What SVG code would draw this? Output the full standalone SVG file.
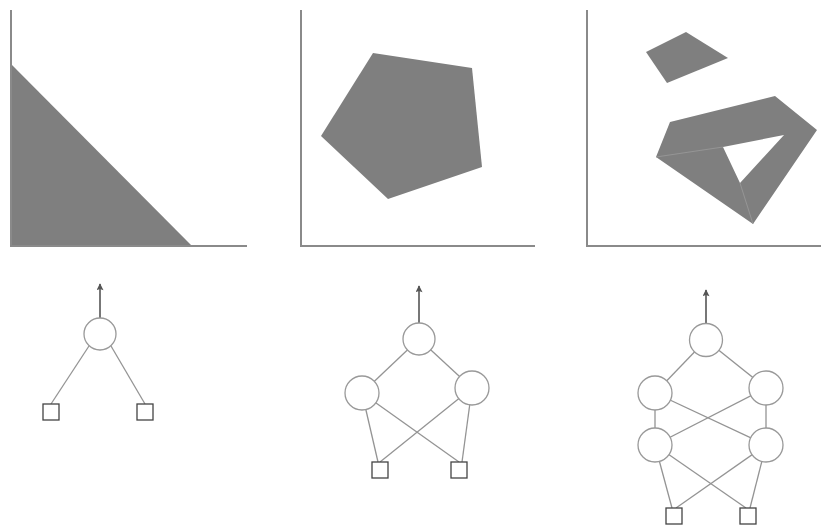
<svg xmlns="http://www.w3.org/2000/svg" width="821" height="529" viewBox="0 0 821 529">
<defs>
<style>
.axis{stroke:#8a8a8a;stroke-width:2;fill:none}
.shape{fill:#7f7f7f;stroke:none}
.edge{stroke:#949494;stroke-width:1.3;fill:none}
.neuron{fill:#fff;stroke:#999;stroke-width:1.3}
.input{fill:#fff;stroke:#444;stroke-width:1.3}
.out{stroke:#555;stroke-width:1.6;fill:none}
</style>
<marker id="ah" viewBox="0 0 10 10" refX="9" refY="5" markerWidth="10" markerHeight="7" markerUnits="userSpaceOnUse" orient="auto">
<path d="M0,0 L10,5 L0,10 L2,5 z" fill="#555"/>
</marker>
</defs>
<rect width="821" height="529" fill="#fff"/>
<g id="plot1">
<polygon class="shape" points="11,64 11,246 192,246"/>
<path class="axis" d="M11,10 V246 H247"/>
</g>
<g id="plot2">
<polygon class="shape" points="373,53 472,68 482,167 388,199 321,136"/>
<path class="axis" d="M301,10 V246 H535"/>
</g>
<g id="plot3">
<polygon class="shape" points="646,52 686,32 728,58 667,83"/>
<path class="shape" fill-rule="evenodd" d="M656,157 L670,122 L775,96 L817,130 L753,224 Z M723,147 L784,135 L740,183 Z"/>
<path d="M656,157 L723,147 M740,183 L753,224" stroke="#9a9a9a" stroke-width="0.8" fill="none"/>
<path class="axis" d="M587,10 V246 H821"/>
</g>
<g id="connectors">
<line class="out" x1="100" y1="318" x2="100" y2="284" marker-end="url(#ah)"/>
<line class="edge" x1="89" y1="346" x2="51" y2="404"/>
<line class="edge" x1="111" y1="346" x2="145" y2="404"/>
<line class="out" x1="419" y1="323" x2="419" y2="286" marker-end="url(#ah)"/>
<line class="edge" x1="419" y1="339" x2="362" y2="393"/>
<line class="edge" x1="419" y1="339" x2="472" y2="388"/>
<line class="edge" x1="362" y1="393" x2="378" y2="462"/>
<line class="edge" x1="362" y1="393" x2="459" y2="462"/>
<line class="edge" x1="472" y1="388" x2="380" y2="462"/>
<line class="edge" x1="472" y1="388" x2="462" y2="462"/>
<line class="out" x1="706" y1="324" x2="706" y2="290" marker-end="url(#ah)"/>
<line class="edge" x1="706" y1="340" x2="655" y2="393"/>
<line class="edge" x1="706" y1="340" x2="766" y2="388"/>
<line class="edge" x1="655" y1="393" x2="655" y2="445" stroke="#666"/>
<line class="edge" x1="766" y1="388" x2="766" y2="445" stroke="#666"/>
<line class="edge" x1="655" y1="393" x2="766" y2="445"/>
<line class="edge" x1="766" y1="388" x2="655" y2="445"/>
<line class="edge" x1="655" y1="445" x2="672" y2="508"/>
<line class="edge" x1="655" y1="445" x2="746" y2="508"/>
<line class="edge" x1="766" y1="445" x2="676" y2="508"/>
<line class="edge" x1="766" y1="445" x2="750" y2="508"/>
</g>
<g id="n1-out"><circle class="neuron" cx="100" cy="334" r="16"/></g>
<g id="n1-in1"><rect class="input" x="43" y="404" width="16" height="16"/></g>
<g id="n1-in2"><rect class="input" x="137" y="404" width="16" height="16"/></g>
<g id="n2-out"><circle class="neuron" cx="419" cy="339" r="16"/></g>
<g id="n2-h1"><circle class="neuron" cx="362" cy="393" r="17"/></g>
<g id="n2-h2"><circle class="neuron" cx="472" cy="388" r="17"/></g>
<g id="n2-in1"><rect class="input" x="372" y="462" width="16" height="16"/></g>
<g id="n2-in2"><rect class="input" x="451" y="462" width="16" height="16"/></g>
<g id="n3-out"><circle class="neuron" cx="706" cy="340" r="16.5"/></g>
<g id="n3-h1"><circle class="neuron" cx="655" cy="393" r="17"/></g>
<g id="n3-h2"><circle class="neuron" cx="766" cy="388" r="17"/></g>
<g id="n3-h3"><circle class="neuron" cx="655" cy="445" r="17"/></g>
<g id="n3-h4"><circle class="neuron" cx="766" cy="445" r="17"/></g>
<g id="n3-in1"><rect class="input" x="666" y="508" width="16" height="16"/></g>
<g id="n3-in2"><rect class="input" x="740" y="508" width="16" height="16"/></g>
</svg>
